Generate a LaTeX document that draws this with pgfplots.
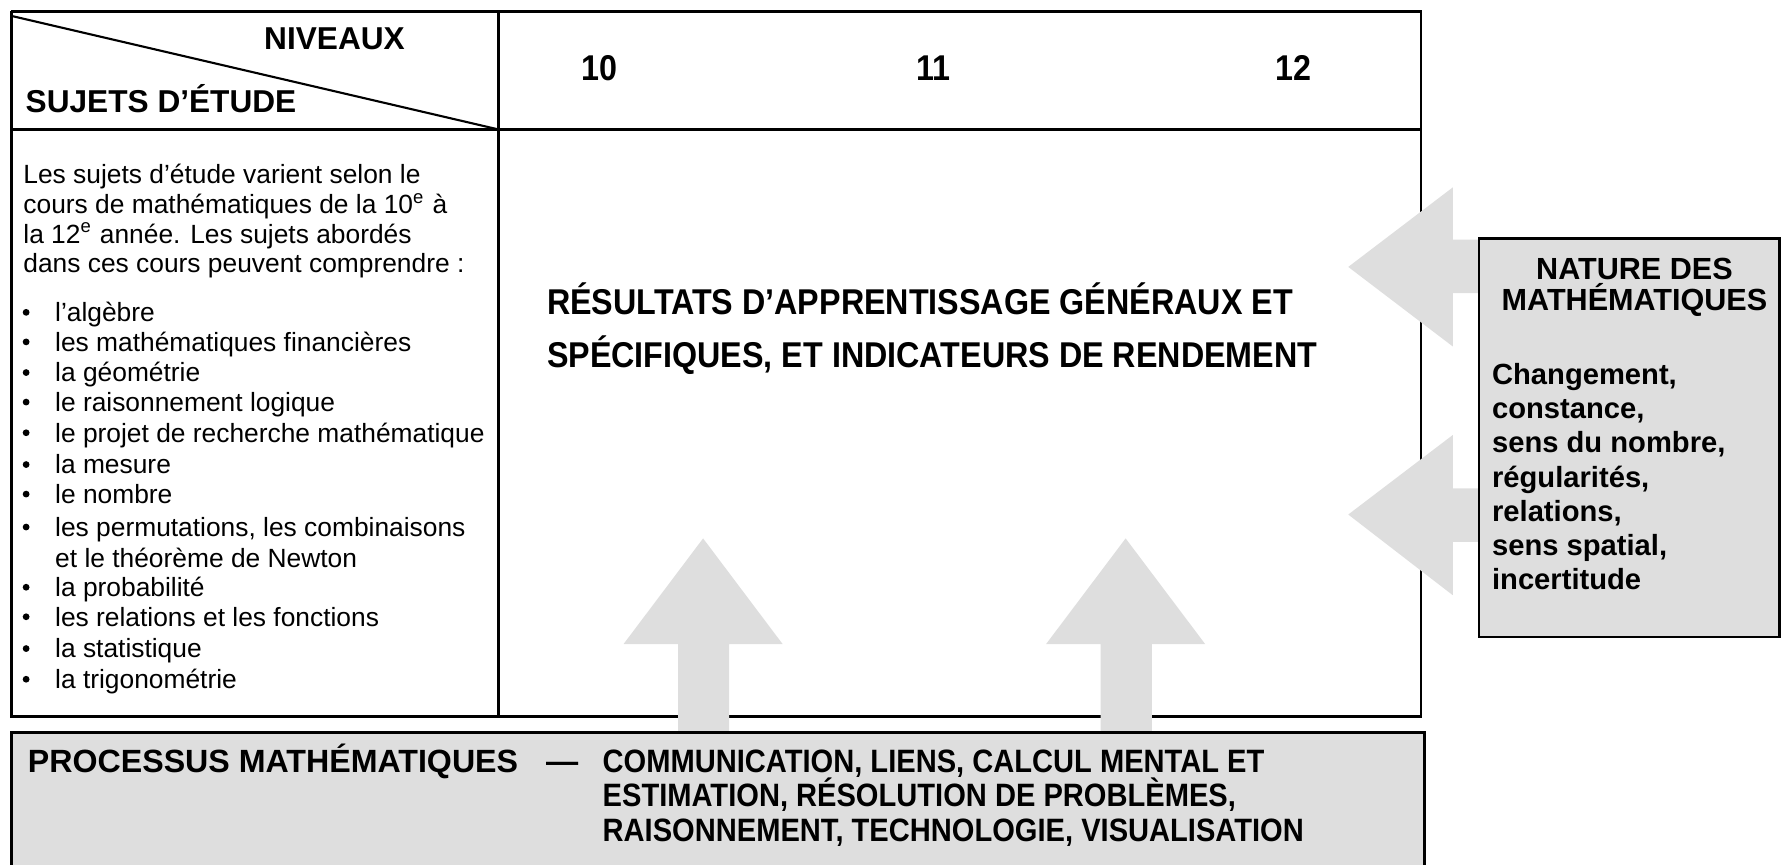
\documentclass[border=0pt]{standalone}
\usepackage{pgfplots}
\pgfplotsset{compat=1.18}
\usepackage{fontspec}
\setmainfont{Liberation Sans}
\newfontfamily\condfont[FakeStretch=0.9]{Liberation Sans}
\definecolor{boxgray}{RGB}{222,222,222}
\tikzset{
  txt/.style={inner sep=0pt, text height=1.5ex, text depth=0.25ex, anchor=west},
  lt/.style={txt, font=\fontsize{7.5}{9}\selectfont},
  hb/.style={txt, font=\fontsize{9}{11}\selectfont\bfseries},
  rb/.style={txt, font=\fontsize{8.3}{10}\selectfont\bfseries},
  cb/.style={txt, font=\fontsize{10.2}{12}\selectfont\condfont\bfseries},
  bb/.style={txt, font=\fontsize{9.2}{11}\selectfont\condfont\bfseries},
}

\begin{document}
\begin{tikzpicture}
\begin{axis}[
  width=17.81cm, height=8.644cm, scale only axis,
  xmin=0, xmax=1568, ymin=0, ymax=761, y dir=reverse,
  hide axis, clip=false,
]
% ---- table frame
\addplot[black, line width=0.7pt] coordinates {(10,10) (1251,10) (1251,631) (10,631) (10,10)};
\addplot[black, line width=0.7pt] coordinates {(10,114) (1251,114)};
\addplot[black, line width=0.7pt] coordinates {(439,10) (439,631)};
\addplot[black, line width=0.6pt] coordinates {(10,14) (439,114)};

% ---- up arrows
\addplot[fill=boxgray, draw=none] coordinates {(549,567) (619,474) (689,567) (642,567) (642,650) (597,650) (597,567)} --cycle;
\addplot[fill=boxgray, draw=none] coordinates {(921,567) (991,474) (1061,567) (1014,567) (1014,650) (969,650) (969,567)} --cycle;
% ---- left arrows
\addplot[fill=boxgray, draw=none] coordinates {(1279,165) (1187,235) (1279,305) (1279,258) (1305,258) (1305,211) (1279,211)} --cycle;
\addplot[fill=boxgray, draw=none] coordinates {(1279,383) (1187,453) (1279,524) (1279,477) (1305,477) (1305,430) (1279,430)} --cycle;

% ---- right box
\addplot[fill=boxgray, draw=black, line width=0.7pt] coordinates {(1302,210) (1566.5,210) (1566.5,561) (1302,561)} --cycle;
% ---- bottom box
\addplot[fill=boxgray, draw=black, line width=0.7pt] coordinates {(10,780) (10,645) (1254,645) (1254,780)};

% ---- bullets
\addplot[only marks, mark=*, mark size=0.75pt, black] coordinates {
 (23,275) (23,301) (23,328) (23,354) (23,381) (23,409) (23,435) (23,464) (23,517) (23,543) (23,571) (23,598)};

% ---- header texts
\node[hb] at (axis cs:232,33) {NIVEAUX};
\node[hb] at (axis cs:22,89) {SUJETS D’ÉTUDE};
\node[cb, anchor=center] at (axis cs:528,61) {10};
\node[cb, anchor=center] at (axis cs:822,61) {11};
\node[cb, anchor=center] at (axis cs:1139,61) {12};

% ---- left column
\node[lt] at (axis cs:20,151) {Les sujets d’étude varient selon le};
\node[lt] at (axis cs:20,178) {cours de mathématiques de la 10\textsuperscript{e} à};
\node[lt] at (axis cs:20,204) {la 12\textsuperscript{e} année. Les sujets abordés};
\node[lt] at (axis cs:20,230) {dans ces cours peuvent comprendre :};
\node[lt] at (axis cs:48,273) {l’algèbre};
\node[lt] at (axis cs:48,299) {les mathématiques financières};
\node[lt] at (axis cs:48,326) {la géométrie};
\node[lt] at (axis cs:48,352) {le raisonnement logique};
\node[lt] at (axis cs:48,379) {le projet de recherche mathématique};
\node[lt] at (axis cs:48,407) {la mesure};
\node[lt] at (axis cs:48,433) {le nombre};
\node[lt] at (axis cs:48,462) {les permutations, les combinaisons};
\node[lt] at (axis cs:48,489) {et le théorème de Newton};
\node[lt] at (axis cs:48,515) {la probabilité};
\node[lt] at (axis cs:48,541) {les relations et les fonctions};
\node[lt] at (axis cs:48,569) {la statistique};
\node[lt] at (axis cs:48,596) {la trigonométrie};

% ---- centre
\node[cb] at (axis cs:481,267) {RÉSULTATS D’APPRENTISSAGE GÉNÉRAUX ET};
\node[cb] at (axis cs:481,313) {SPÉCIFIQUES, ET INDICATEURS DE RENDEMENT};

% ---- right box texts
\node[txt, anchor=center, font=\fontsize{8.7}{10}\selectfont\bfseries] at (axis cs:1439,236) {NATURE DES};
\node[txt, anchor=center, font=\fontsize{8.7}{10}\selectfont\bfseries] at (axis cs:1439,263) {MATHÉMATIQUES};
\node[rb] at (axis cs:1313,328) {Changement,};
\node[rb] at (axis cs:1313,358) {constance,};
\node[rb] at (axis cs:1313,388) {sens du nombre,};
\node[rb] at (axis cs:1313,419) {régularités,};
\node[rb] at (axis cs:1313,449) {relations,};
\node[rb] at (axis cs:1313,479) {sens spatial,};
\node[rb] at (axis cs:1313,509) {incertitude};

% ---- bottom box texts
\node[txt, font=\fontsize{9.15}{10}\selectfont\bfseries] at (axis cs:24,670) {PROCESSUS MATHÉMATIQUES};
\node[txt, anchor=center, font=\fontsize{9.15}{10}\selectfont\bfseries] at (axis cs:495,670) {—};
\node[bb] at (axis cs:530,670) {COMMUNICATION, LIENS, CALCUL MENTAL ET};
\node[bb] at (axis cs:530,700) {ESTIMATION, RÉSOLUTION DE PROBLÈMES,};
\node[bb] at (axis cs:530,731) {RAISONNEMENT, TECHNOLOGIE, VISUALISATION};

\coordinate (SW) at (rel axis cs:0,0);
\coordinate (NE) at (rel axis cs:1,1);
\end{axis}
\pgfresetboundingbox
\path (SW) rectangle (NE);
\end{tikzpicture}
\end{document}
